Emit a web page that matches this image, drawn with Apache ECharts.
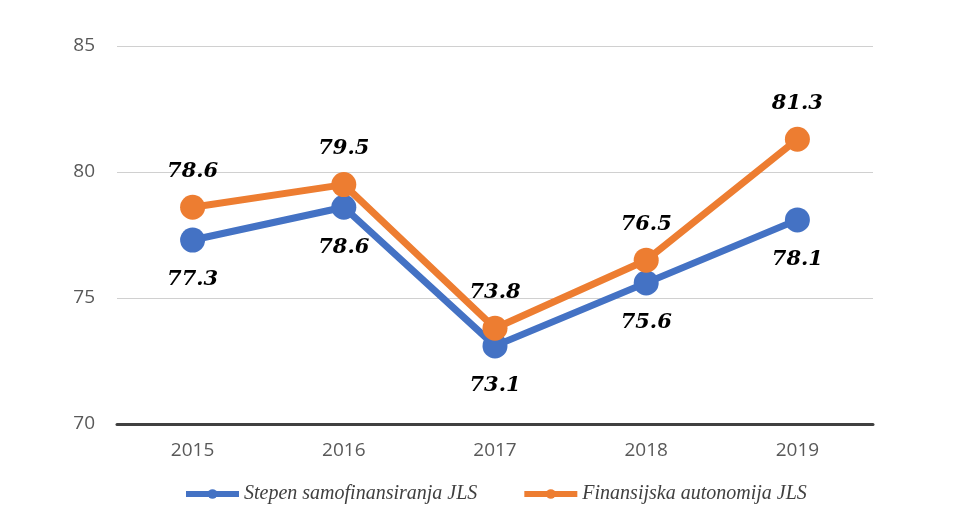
<!DOCTYPE html>
<html>
<head>
<meta charset="utf-8">
<script src="https://cdn.jsdelivr.net/npm/echarts@6/dist/echarts.min.js"></script>
<style>
  html, body { margin: 0; padding: 0; background: #fff; }
  #chart { width: 956px; height: 517px; }
</style>
</head>
<body>
<div id="chart"></div>
<script>
// Years on the category axis
const years = ['2015', '2016', '2017', '2018', '2019'];
// Stepen samofinansiranja JLS (%)
const samofinansiranje = [77.3, 78.6, 73.1, 75.6, 78.1];
// Finansijska autonomija JLS (%)
const autonomija = [78.6, 79.5, 73.8, 76.5, 81.3];
const seriesNames = ['Stepen samofinansiranja JLS', 'Finansijska autonomija JLS'];

const labelFont = {
  fontFamily: '"DejaVu Serif", "Liberation Serif", serif',
  fontStyle: 'italic',
  fontWeight: 'bold',
  fontSize: 21,
  color: '#000'
};

const chart = echarts.init(document.getElementById('chart'), null, { renderer: 'canvas' });
chart.setOption({
  backgroundColor: '#fff',
  animation: false,
  grid: { left: 117, right: 83, top: 46, bottom: 93 },
  legend: {
    bottom: 8,
    left: 178,
    itemWidth: 53,
    itemHeight: 12,
    itemGap: 44,
    lineStyle: { width: 6 },
    textStyle: {
      fontFamily: '"Liberation Serif", "DejaVu Serif", serif',
      fontStyle: 'italic',
      fontSize: 20,
      color: '#404040'
    },
    data: seriesNames
  },
  xAxis: {
    type: 'category',
    data: years,
    boundaryGap: true,
    axisLine: { lineStyle: { color: '#404040', width: 3 } },
    axisTick: { show: false },
    axisLabel: { fontFamily: '"Open Sans", sans-serif', fontSize: 19, color: '#595959', margin: 17 }
  },
  yAxis: {
    type: 'value',
    min: 70,
    max: 85,
    interval: 5,
    axisLine: { show: false },
    axisTick: { show: false },
    axisLabel: { fontFamily: '"Open Sans", sans-serif', fontSize: 19, color: '#595959', margin: 22 },
    splitLine: { lineStyle: { color: '#d0d0d0', width: 1 } }
  },
  series: [
    {
      name: seriesNames[0],
      type: 'line',
      data: samofinansiranje,
      symbol: 'circle',
      symbolSize: 25,
      lineStyle: { color: '#4472C4', width: 7 },
      itemStyle: { color: '#4472C4' },
      label: Object.assign({ show: true, position: 'bottom', distance: 17, formatter: p => p.value.toFixed(1) }, labelFont),
      z: 2
    },
    {
      name: seriesNames[1],
      type: 'line',
      data: autonomija,
      symbol: 'circle',
      symbolSize: 25,
      lineStyle: { color: '#ED7D31', width: 7 },
      itemStyle: { color: '#ED7D31' },
      label: Object.assign({ show: true, position: 'top', distance: 13, formatter: p => p.value.toFixed(1) }, labelFont),
      z: 3
    }
  ]
});
</script>
</body>
</html>
